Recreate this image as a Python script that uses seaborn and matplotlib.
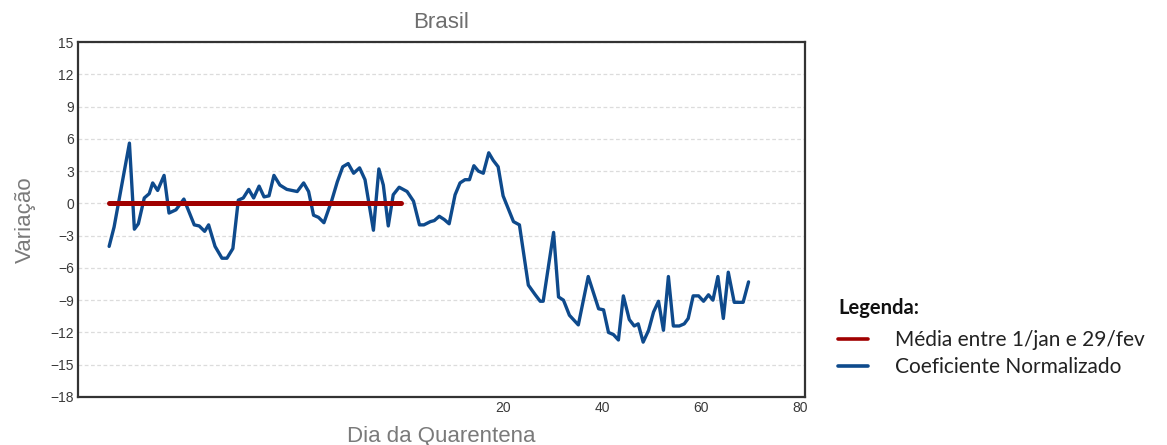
import matplotlib
matplotlib.use("Agg")
import matplotlib.pyplot as plt
import seaborn as sns
import pandas as pd

# ---- data ----
dias = [-59.6, -58.6, -55.5, -54.5, -53.7, -52.5, -51.5, -50.8, -49.8, -48.5,
        -47.5, -46.1, -44.5, -42.4, -41.4, -40.3, -39.5, -38.2, -36.8, -35.8,
        -34.6, -33.5, -32.5, -31.4, -30.4, -29.3, -28.3, -27.3, -26.3, -25.1,
        -23.7, -21.6, -20.3, -19.3, -18.3, -17.3, -16.2, -14.6, -13.5, -12.4,
        -11.3, -10.2, -9.0, -7.9, -6.2, -5.1, -4.2, -3.2, -2.2, -1.0,
        0.6, 1.9, 3.1, 4.0, 5.3, 6.1, 7.1, 8.1, 9.1, 10.3,
        11.3, 12.3, 13.2, 14.1, 15.0, 16.0, 17.1, 18.0, 19.0, 20.0,
        22.1, 23.3, 25.1, 26.5, 27.5, 28.1, 30.2, 31.2, 32.2, 33.4,
        35.2, 37.2, 39.3, 40.3, 41.3, 42.3, 43.3, 44.3, 45.5, 46.5,
        47.3, 48.3, 49.4, 50.4, 51.4, 52.4, 53.4, 54.4, 55.6, 56.6,
        57.4, 58.4, 59.5, 60.5, 61.5, 62.4, 63.4, 64.5, 65.5, 66.7,
        68.5, 69.6]
coeficiente = [-4.0, -2.2, 5.6, -2.4, -1.9, 0.5, 0.9, 1.9, 1.2, 2.6,
               -0.9, -0.6, 0.4, -2.0, -2.1, -2.6, -2.0, -4.0, -5.1, -5.1,
               -4.2, 0.3, 0.5, 1.3, 0.5, 1.6, 0.6, 0.7, 2.6, 1.7,
               1.3, 1.1, 1.9, 1.1, -1.1, -1.3, -1.8, 0.3, 2.0, 3.4,
               3.7, 2.8, 3.3, 2.2, -2.5, 3.2, 1.7, -2.1, 0.8, 1.5,
               1.1, 0.2, -2.0, -2.0, -1.7, -1.6, -1.2, -1.5, -1.9, 0.8,
               1.9, 2.2, 2.2, 3.5, 3.0, 2.8, 4.7, 4.0, 3.4, 0.7,
               -1.7, -2.0, -7.6, -8.5, -9.1, -9.1, -2.7, -8.7, -9.0, -10.4,
               -11.3, -6.8, -9.8, -9.9, -12.0, -12.2, -12.7, -8.6, -10.8, -11.4,
               -11.2, -12.9, -11.8, -10.1, -9.1, -11.8, -6.8, -11.4, -11.4, -11.2,
               -10.7, -8.6, -8.6, -9.1, -8.5, -9.0, -6.8, -10.7, -6.4, -9.2,
               -9.2, -7.3]
media_dias = [-59.6, -0.6]
media_valor = [0.0, 0.0]

y_ticks = [-18, -15, -12, -9, -6, -3, 0, 3, 6, 9, 12, 15]
x_ticks = [20, 40, 60, 80]

titulo = "Brasil"
rotulo_x = "Dia da Quarentena"
rotulo_y = "Variação"
legenda_titulo = "Legenda:"
legenda_media = "Média entre 1/jan e 29/fev"
legenda_coef = "Coeficiente Normalizado"

# ---- plot ----
sns.set_style("white")
plt.rcParams["font.family"] = ["Liberation Sans", "DejaVu Sans"]

fig = plt.figure(figsize=(11.67, 4.45), dpi=100)
ax = fig.add_axes([0.0668, 0.1079, 0.6230, 0.7977])

RED = "#a00000"
BLUE = "#0e4a8c"

df_coef = pd.DataFrame({"dia": dias, "valor": coeficiente})
df_media = pd.DataFrame({"dia": media_dias, "valor": media_valor})

sns.lineplot(data=df_coef, x="dia", y="valor", color=BLUE, linewidth=2.4,
             ax=ax, label=legenda_coef, zorder=2)
sns.lineplot(data=df_media, x="dia", y="valor", color=RED, linewidth=3.6,
             ax=ax, label=legenda_media, zorder=3)

ax.set_xlim(-65.9, 81.0)
ax.set_ylim(-18, 15)
ax.set_yticks(y_ticks)
ax.set_xticks(x_ticks)
ax.yaxis.grid(True, linestyle=(0, (3, 2)), color="#dcdcdc", linewidth=0.9)
ax.xaxis.grid(False)
ax.set_axisbelow(True)
ax.tick_params(axis="both", labelsize=10, colors="#3a3a3a", length=0, pad=3)

for s in ax.spines.values():
    s.set_color("#333333")
    s.set_linewidth(1.6)

ax.set_title(titulo, fontsize=16, color="#6e6e6e", pad=10)
ax.set_xlabel(rotulo_x, fontsize=16, color="#7a7a7a", labelpad=8)
ax.set_ylabel(rotulo_y, fontsize=16, color="#7a7a7a", labelpad=10)

# legend title as separate text, entries as a legend
fig.text(838 / 1167, 1 - 308 / 445, legenda_titulo, ha="left", va="center",
         fontsize=14.5, fontweight="bold", color="#111111",
         family=["Lato", "DejaVu Sans"])

handles, labels = ax.get_legend_handles_labels()
order = [labels.index(legenda_media), labels.index(legenda_coef)]
leg_font = {"family": ["Lato", "DejaVu Sans"], "size": 15}
leg = ax.legend([handles[i] for i in order], [labels[i] for i in order],
                loc="upper left",
                bbox_to_anchor=(838 / 1167, 1 - 330 / 445),
                bbox_transform=fig.transFigure,
                frameon=False, prop=leg_font, labelcolor="#222222",
                handlelength=1.45, handletextpad=1.3,
                labelspacing=0.35, borderaxespad=0, borderpad=0)
for h in leg.get_lines():
    h.set_linewidth(2.6)

fig.savefig("out.png", dpi=100)
